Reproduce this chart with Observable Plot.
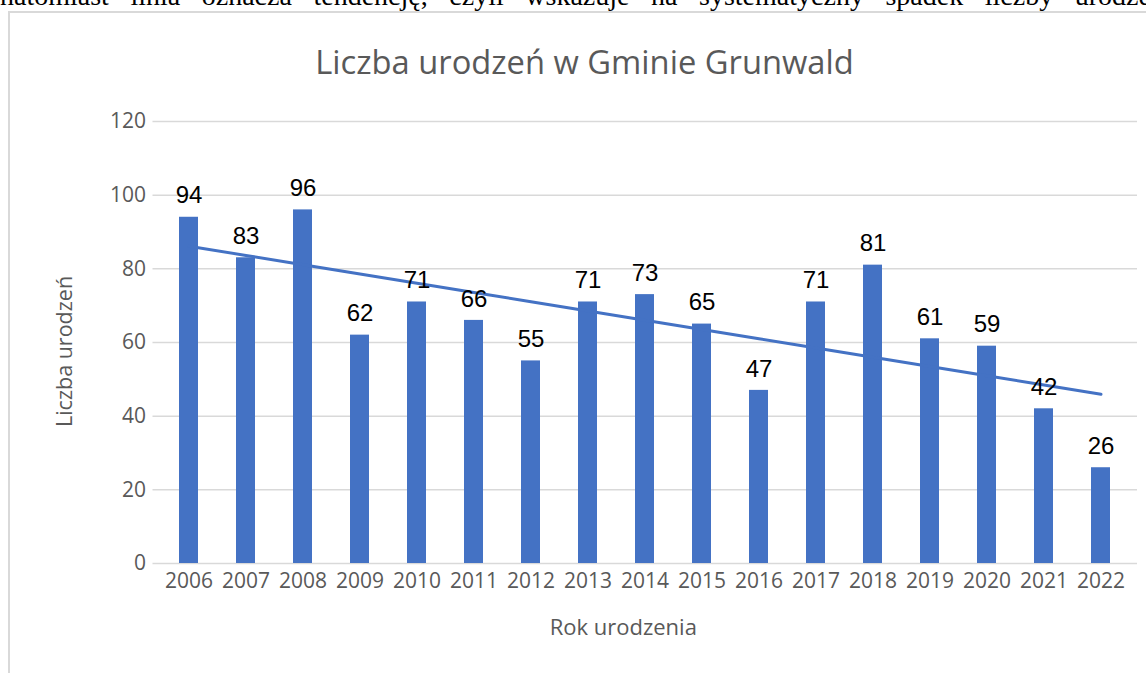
<!DOCTYPE html>
<html>
<head>
<meta charset="utf-8">
<script src="https://cdn.jsdelivr.net/npm/d3@7"></script>
<script src="https://cdn.jsdelivr.net/npm/@observablehq/plot@0.6"></script>
<style>
  html, body { margin: 0; padding: 0; background: #fff; overflow: hidden; }
  #page { position: relative; width: 1146px; height: 673px; overflow: hidden; background: #fff; }
  #topline { position: absolute; left: 0; top: -18px; width: 1165px; display: flex; justify-content: space-between;
    font-family: "Liberation Serif", "DejaVu Serif", serif; font-size: 28px; line-height: 28px; color: #000; white-space: nowrap; }
  #frame { position: absolute; left: 8px; top: 11px; width: 1200px; height: 700px; border: 2px solid #d9d9d9; box-sizing: border-box; background: #fff; }
  #title { position: absolute; left: 0; width: 1169px; top: 44px; text-align: center;
    font-family: "Open Sans", sans-serif; font-size: 32.7px; line-height: 36px; color: #595959; }
  #chart { position: absolute; left: 0; top: 90px; }
</style>
</head>
<body>
<div id="page">
  <div id="topline"></div>
  <div id="frame"></div>
  <div id="title">Liczba urodzeń w Gminie Grunwald</div>
  <div id="chart"></div>
</div>
<script>
const topWords = ["natomiast", "linia", "oznacza", "tendencję,", "czyli", "wskazuje", "na", "systematyczny", "spadek", "liczby", "urodzeń"];
const years = ["2006","2007","2008","2009","2010","2011","2012","2013","2014","2015","2016","2017","2018","2019","2020","2021","2022"];
const births = [94, 83, 96, 62, 71, 66, 55, 71, 73, 65, 47, 71, 81, 61, 59, 42, 26];
const yTicks = [0, 20, 40, 60, 80, 100, 120];
const xLabel = "Rok urodzenia";
const yLabel = "Liczba urodzeń";

const tl = document.getElementById("topline");
topWords.forEach(w => { const s = document.createElement("span"); s.textContent = w; tl.appendChild(s); });

const data = years.map((y, i) => ({year: y, value: births[i], i}));

// linear trend (least squares) computed from the data
const mx = d3.mean(data, d => d.i), my = d3.mean(births);
const slope = d3.sum(data, d => (d.i - mx) * (d.value - my)) / d3.sum(data, d => (d.i - mx) ** 2);
const trend = data.map(d => ({year: d.year, value: my + slope * (d.i - mx)}));

const blue = "#4472C4";
const sans = "'Open Sans', sans-serif";

const chart = Plot.plot({
  width: 1146,
  height: 583,
  marginLeft: 152.5,
  marginRight: 9,
  marginTop: 31,
  marginBottom: 110,
  style: {fontFamily: sans, color: "#595959", background: "transparent"},
  x: {domain: years, paddingInner: 0.66, paddingOuter: 0.33, label: null},
  y: {domain: [0, 120], ticks: yTicks, label: null},
  marks: [
    Plot.gridY(yTicks, {stroke: "#d9d9d9", strokeOpacity: 1, strokeWidth: 1.5}),
    Plot.axisY(yTicks, {tickSize: 0, tickPadding: 7, fontSize: 21, fontFamily: sans, fill: "#595959", label: null}),
    Plot.axisX({tickSize: 0, tickPadding: 10, fontSize: 21, fontFamily: sans, fill: "#595959", label: null}),
    Plot.barY(data, {x: "year", y: "value", fill: blue}),
    Plot.line(trend, {x: "year", y: "value", stroke: blue, strokeWidth: 3}),
    Plot.text(data, {x: "year", y: "value", text: d => String(d.value), dy: -21.5,
      fontSize: 24, fontFamily: "'Liberation Sans', Arial, sans-serif", fill: "#000"}),
    Plot.text([xLabel], {frameAnchor: "bottom", textAnchor: "middle", lineAnchor: "middle", dx: -22, dy: 64,
      fontSize: 22, fontFamily: sans, fill: "#595959"}),
    Plot.text([yLabel], {frameAnchor: "left", textAnchor: "middle", lineAnchor: "middle", dx: -87.5, dy: 9, rotate: -90,
      fontSize: 21.5, fontFamily: sans, fill: "#595959"})
  ]
});
document.getElementById("chart").appendChild(chart);
</script>
</body>
</html>
